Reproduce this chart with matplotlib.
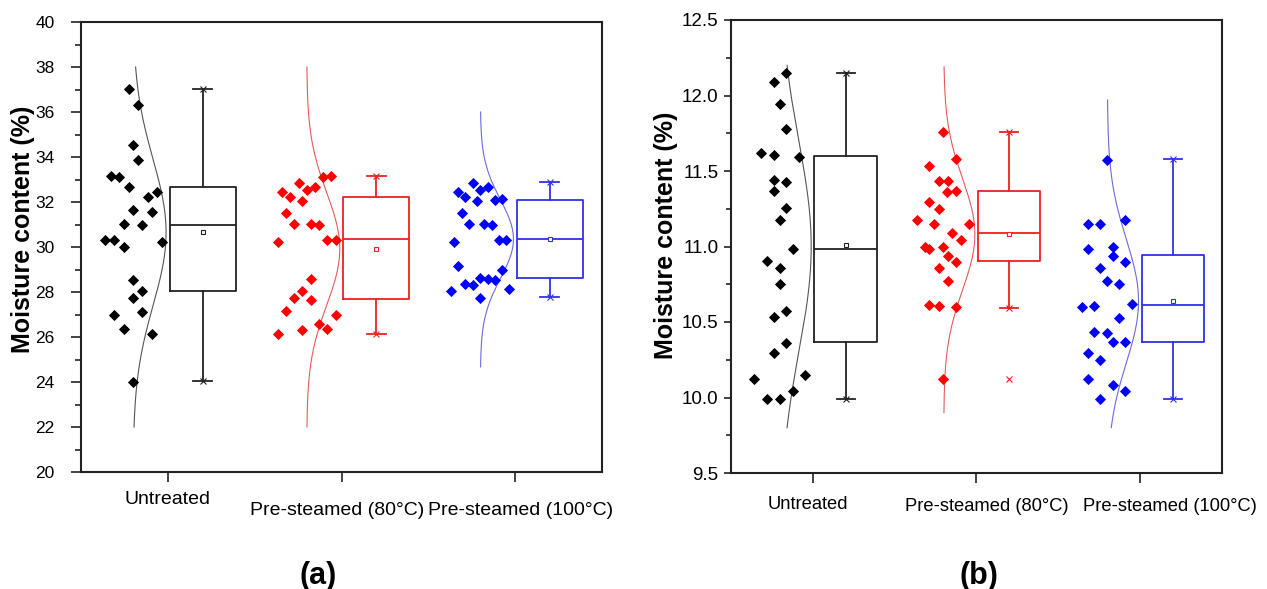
import numpy as np
import matplotlib
matplotlib.use('Agg')
import matplotlib.pyplot as plt
from matplotlib.ticker import MultipleLocator, FormatStrFormatter

plt.rcParams['font.family'] = ['Liberation Sans', 'DejaVu Sans']

groups = ['Untreated', 'Pre-steamed (80°C)', 'Pre-steamed (100°C)']
colors = ['black', 'red', 'blue']
box_colors = ['#222222', '#ee2020', '#3030ee']
curve_colors = ['#555555', '#e85a5a', '#6a6ae0']
ylabel = 'Moisture content (%)'

# ---------------- panel (a) data ----------------
a_untreated = [37.04, 36.33, 34.55, 33.85, 33.14, 33.10, 32.67, 32.43, 32.21, 31.63,
               31.54, 31.02, 30.96, 30.33, 30.33, 30.22, 30.00, 28.55, 28.06, 27.73,
               27.13, 26.96, 26.36, 26.13, 24.00]
a_untreated_jit = [-0.226, -0.17, -0.2, -0.17, -0.33, -0.28, -0.226, -0.063, -0.117, -0.2,
                   -0.09, -0.255, -0.146, -0.364, -0.308, -0.036, -0.255, -0.2, -0.146, -0.2,
                   -0.146, -0.308, -0.255, -0.09, -0.2]
a_80 = [33.11, 33.16, 32.84, 32.55, 32.67, 32.43, 32.21, 32.03, 31.51, 31.02,
        31.02, 30.96, 30.24, 30.33, 30.30, 28.56, 28.04, 27.75, 27.66, 27.14,
        26.98, 26.59, 26.36, 26.13, 26.30]
a_80_jit = [-0.105, -0.06, -0.245, -0.2, -0.153, -0.343, -0.297, -0.226, -0.318, -0.272,
            -0.178, -0.13, -0.366, -0.082, -0.034, -0.178, -0.226, -0.272, -0.178, -0.318,
            -0.034, -0.13, -0.082, -0.366, -0.226]
a_100 = [32.84, 32.55, 32.67, 32.43, 32.21, 32.03, 32.07, 32.15, 31.51, 31.02,
         31.02, 30.96, 30.24, 30.33, 30.30, 29.14, 28.99, 28.64, 28.59, 28.55,
         28.37, 28.30, 28.04, 28.15, 27.73]
a_100_jit = [-0.243, -0.2, -0.159, -0.328, -0.286, -0.22, -0.117, -0.075, -0.305, -0.264,
             -0.182, -0.136, -0.35, -0.094, -0.052, -0.328, -0.075, -0.2, -0.159, -0.117,
             -0.286, -0.243, -0.37, -0.033, -0.2]
a_q1 = [28.06, 27.69, 28.62]
a_med = [30.98, 30.36, 30.36]
a_q3 = [32.67, 32.22, 32.10]
a_mean = [30.67, 29.91, 30.37]
a_whislo = [24.03, 26.13, 27.76]
a_whishi = [37.04, 33.16, 32.87]
a_outliers = [[], [], []]
a_curve_lo = [22.0, 22.0, 24.67]
a_curve_hi = [38.0, 38.0, 36.0]

# ---------------- panel (b) data ----------------
b_untreated = [12.147, 12.087, 11.944, 11.776, 11.617, 11.609, 11.595, 11.44, 11.43, 11.37,
               11.253, 11.176, 10.983, 10.906, 10.858, 10.75, 10.575, 10.535, 10.363, 10.293,
               10.123, 10.147, 10.045, 9.99, 9.99]
b_untreated_jit = [-0.163, -0.24, -0.2, -0.163, -0.316, -0.24, -0.087, -0.24, -0.163, -0.24,
                   -0.163, -0.2, -0.124, -0.277, -0.2, -0.2, -0.163, -0.24, -0.163, -0.24,
                   -0.357, -0.049, -0.124, -0.277, -0.2]
b_80 = [11.756, 11.58, 11.533, 11.436, 11.436, 11.363, 11.368, 11.293, 11.25, 11.175,
        11.149, 11.149, 11.087, 11.043, 10.995, 10.983, 10.995, 10.94, 10.90, 10.86,
        10.774, 10.613, 10.608, 10.597, 10.123]
b_80_jit = [-0.204, -0.124, -0.289, -0.232, -0.177, -0.18, -0.124, -0.289, -0.232, -0.365,
            -0.043, -0.259, -0.151, -0.096, -0.314, -0.289, -0.204, -0.177, -0.124, -0.232,
            -0.177, -0.289, -0.232, -0.124, -0.204]
b_100 = [11.573, 11.149, 11.147, 11.175, 10.983, 10.995, 10.937, 10.90, 10.858, 10.771,
         10.75, 10.597, 10.606, 10.617, 10.529, 10.432, 10.429, 10.366, 10.37, 10.293,
         10.248, 10.123, 10.083, 10.045, 9.99]
b_100_jit = [-0.204, -0.318, -0.243, -0.09, -0.318, -0.165, -0.165, -0.09, -0.243, -0.204,
             -0.128, -0.357, -0.28, -0.051, -0.128, -0.28, -0.204, -0.165, -0.09, -0.318,
             -0.243, -0.318, -0.165, -0.09, -0.243]
b_q1 = [10.366, 10.904, 10.366]
b_med = [10.985, 11.089, 10.61]
b_q3 = [11.60, 11.368, 10.942]
b_mean = [11.01, 11.08, 10.64]
b_whislo = [9.99, 10.595, 9.99]
b_whishi = [12.147, 11.756, 11.58]
b_outliers = [[], [10.123], []]
b_curve_lo = [9.8, 9.9, 9.8]
b_curve_hi = [12.2, 12.19, 11.97]

W, H = 1267, 589
fig = plt.figure(figsize=(W / 100, H / 100), dpi=100)
ax_a = fig.add_axes([81 / W, 1 - 472 / H, 521 / W, 450 / H])
ax_b = fig.add_axes([731 / W, 1 - 473 / H, 491 / W, 453 / H])


def draw_panel(ax, data, jits, q1, med, q3, mean, wlo, whi, outl, clo, chi,
               label_px, label_y):
    pos = np.arange(1, len(groups) + 1)
    for i, (vals, jit) in enumerate(zip(data, jits)):
        vals = np.asarray(vals)
        ax.plot(pos[i] + np.asarray(jit), vals, linestyle='none', marker='D',
                ms=5.6, mfc=colors[i], mec=colors[i], mew=0.6, zorder=3)
        # normal distribution curve fitted to the group's values
        mu, sd = vals.mean(), vals.std(ddof=1)
        yy = np.linspace(clo[i], chi[i], 300)
        xx = pos[i] - 0.2 + 0.19 * np.exp(-0.5 * ((yy - mu) / sd) ** 2)
        ax.plot(xx, yy, color=curve_colors[i], lw=0.8, zorder=2)
    for i in range(len(groups)):
        c = box_colors[i]
        st = dict(med=med[i], q1=q1[i], q3=q3[i], mean=mean[i],
                  whislo=wlo[i], whishi=whi[i], fliers=outl[i])
        ax.bxp([st], positions=[pos[i] + 0.2], widths=0.38, showmeans=True,
               showfliers=True, capwidths=0.11,
               boxprops=dict(color=c, lw=1.3),
               whiskerprops=dict(color=c, lw=1.3),
               capprops=dict(color=c, lw=1.3),
               medianprops=dict(color=c, lw=1.3),
               meanprops=dict(marker='s', ms=3.5, mfc='white', mec=c, mew=0.8),
               flierprops=dict(marker='x', ms=4, mec=c, mew=0.8),
               manage_ticks=False)
        ax.plot([pos[i] + 0.2, pos[i] + 0.2], [wlo[i], whi[i]], linestyle='none',
                marker='x', ms=5, mec=c, mew=0.8, zorder=4)
    ax.set_xlim(0.5, 3.5)
    ax.set_xticks(pos)
    ax.set_xticklabels(['', '', ''])
    for s in ax.spines.values():
        s.set_linewidth(1.5)
        s.set_color('#222222')
    ax.tick_params(axis='x', direction='out', length=7, width=1.2, color='#222222')
    ax.tick_params(axis='y', which='both', direction='out', width=1.2, color='#222222')
    ax.set_ylabel(ylabel, fontsize=18, fontweight='bold')
    ax.yaxis.set_label_coords(-label_px / (ax.get_position().width * W), label_y)
    return pos


pos = draw_panel(ax_a, [a_untreated, a_80, a_100], [a_untreated_jit, a_80_jit, a_100_jit],
                 a_q1, a_med, a_q3, a_mean, a_whislo, a_whishi, a_outliers,
                 a_curve_lo, a_curve_hi, 46, 0.54)
ax_a.set_ylim(20, 40)
ax_a.yaxis.set_major_locator(MultipleLocator(2))
ax_a.yaxis.set_minor_locator(MultipleLocator(1))
ax_a.tick_params(axis='y', which='major', length=7, labelsize=12.5, pad=12)
ax_a.tick_params(axis='y', which='minor', length=4)

draw_panel(ax_b, [b_untreated, b_80, b_100], [b_untreated_jit, b_80_jit, b_100_jit],
           b_q1, b_med, b_q3, b_mean, b_whislo, b_whishi, b_outliers,
           b_curve_lo, b_curve_hi, 53, 0.525)
ax_b.set_ylim(9.5, 12.5)
ax_b.yaxis.set_major_locator(MultipleLocator(0.5))
ax_b.yaxis.set_minor_locator(MultipleLocator(0.25))
ax_b.yaxis.set_major_formatter(FormatStrFormatter('%.1f'))
ax_b.tick_params(axis='y', which='major', length=5, labelsize=13.5, pad=4)
ax_b.tick_params(axis='y', which='minor', length=3.5)

# category labels (staggered / shifted as in the original)
a_offsets = [(0, -19.5), (-3, -27.5), (3.6, -27.5)]
b_offsets = [(-3.6, -22.5), (7.2, -24), (21.2, -24)]
for ax, offs, fs in ((ax_a, a_offsets, 14), (ax_b, b_offsets, 13.2)):
    for i, g in enumerate(groups):
        ax.annotate(g, xy=(pos[i], 0), xycoords=('data', 'axes fraction'),
                    xytext=offs[i], textcoords='offset points',
                    ha='center', va='center', fontsize=fs)

fig.text(318 / W, 1 - 576 / H, '(a)', ha='center', va='center', fontsize=22, fontweight='bold')
fig.text(979 / W, 1 - 576 / H, '(b)', ha='center', va='center', fontsize=22, fontweight='bold')

fig.savefig('out.png', dpi=100, facecolor='white')
